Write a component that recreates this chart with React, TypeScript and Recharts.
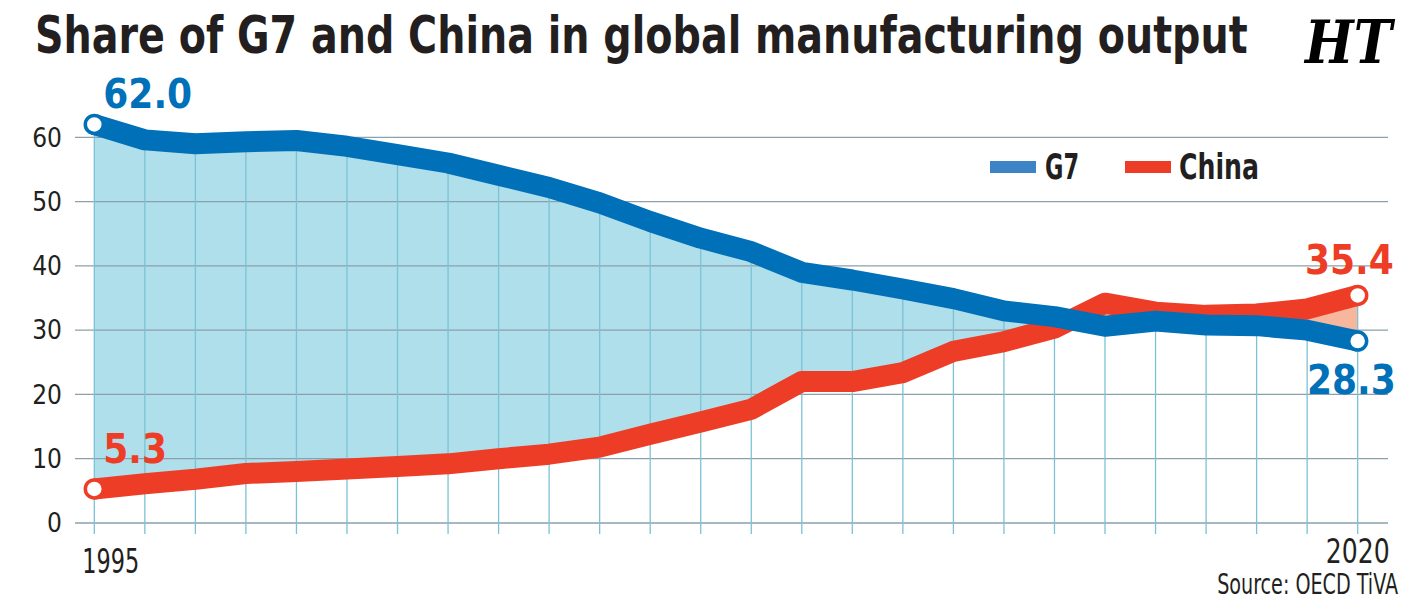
import React, { useLayoutEffect, useRef, useState } from "react";
import {
  ComposedChart,
  Line,
  Area,
  XAxis,
  YAxis,
  ReferenceLine,
} from "recharts";

const years = [
  1995, 1996, 1997, 1998, 1999, 2000, 2001, 2002, 2003, 2004, 2005, 2006, 2007,
  2008, 2009, 2010, 2011, 2012, 2013, 2014, 2015, 2016, 2017, 2018, 2019, 2020,
];
const g7Share = [
  62.0, 59.6, 59.0, 59.3, 59.5, 58.6, 57.3, 56.0, 54.1, 52.2, 49.8, 46.9, 44.3,
  42.2, 39.0, 37.8, 36.4, 34.9, 33.0, 32.1, 30.6, 31.4, 30.8, 30.7, 30.0, 28.3,
];
const chinaShare = [
  5.3, 6.1, 6.8, 7.7, 8.0, 8.4, 8.8, 9.2, 10.0, 10.7, 11.8, 13.8, 15.7, 17.7,
  22.0, 22.0, 23.4, 26.7, 28.2, 30.3, 34.2, 32.8, 32.3, 32.5, 33.3, 35.4,
];
const yTicks = [0, 10, 20, 30, 40, 50, 60];
const labeledYears = [1995, 2020];

const G7_BLUE = "#0070b9";
const CHINA_RED = "#ee3d26";
const INK = "#231f20";
const FONT = "'Liberation Sans Narrow', 'DejaVu Sans Condensed', sans-serif";

const chartData = years.map((year, i) => ({
  year,
  g7: g7Share[i],
  china: chinaShare[i],
  range: [Math.min(g7Share[i], chinaShare[i]), Math.max(g7Share[i], chinaShare[i])],
}));

// where China overtakes the G7, as a fraction of the x range (for the fill gradient)
function crossFraction(): number {
  for (let i = 1; i < years.length; i++) {
    const d0 = g7Share[i - 1] - chinaShare[i - 1];
    const d1 = g7Share[i] - chinaShare[i];
    if (d0 > 0 && d1 <= 0) {
      const t = d0 / (d0 - d1);
      const yr = years[i - 1] + t * (years[i] - years[i - 1]);
      return (yr - years[0]) / (years[years.length - 1] - years[0]);
    }
  }
  return 1;
}
const crossAt = crossFraction();
const last = years.length - 1;

// svg text squeezed horizontally to a given width (the original uses a condensed face)
function FitText(props: any) {
  const { x, y, width, anchor = "start", children, ...rest } = props;
  const ref = useRef<SVGTextElement>(null);
  const [sx, setSx] = useState(1);
  useLayoutEffect(() => {
    if (ref.current) {
      const w = ref.current.getComputedTextLength();
      if (w > 0) setSx(width / w);
    }
  }, [width, children]);
  return (
    <text
      ref={ref}
      x={0}
      y={0}
      textAnchor={anchor}
      transform={`translate(${x},${y}) scale(${sx},1)`}
      {...rest}
    >
      {children}
    </text>
  );
}

function endDot(color: string) {
  return (props: any) => {
    const { cx, cy, index } = props;
    if (index !== 0 && index !== last) return <g key={`d-${index}`} />;
    return (
      <circle
        key={`d-${index}`}
        cx={cx}
        cy={cy}
        r={9}
        fill="#fff"
        stroke={color}
        strokeWidth={3.5}
      />
    );
  };
}

// end-point value labels; offsets differ for each end
function endLabel(color: string, first: [number, number], end: [number, number]) {
  return (props: any) => {
    const { x, y, index, value } = props;
    if (index !== 0 && index !== last) return null;
    const isFirst = index === 0;
    return (
      <text
        key={`l-${index}`}
        x={x + (isFirst ? first[0] : end[0])}
        y={y + (isFirst ? first[1] : end[1])}
        textAnchor={isFirst ? "start" : "end"}
        fill={color}
        fontFamily={FONT}
        fontWeight={700}
        fontSize={40}
      >
        {Number(value).toFixed(1)}
      </text>
    );
  };
}

function YearTick(props: any) {
  const { x, y, payload } = props;
  if (!labeledYears.includes(payload.value)) return <g />;
  const isFirst = payload.value === years[0];
  return (
    <FitText
      x={isFirst ? x - 12 : x + 32}
      y={isFirst ? y + 37 : y + 27}
      width={isFirst ? 57 : 64}
      anchor={isFirst ? "start" : "end"}
      fill={INK}
      fontFamily={FONT}
      fontSize={33}
    >
      {payload.value}
    </FitText>
  );
}

export default function App() {
  return (
    <div
      style={{
        position: "absolute",
        left: 0,
        top: 0,
        width: 1423,
        height: 609,
        background: "#fff",
        overflow: "hidden",
      }}
    >
      <div style={{ position: "absolute", left: 0, top: 0 }}>
        <ComposedChart
          width={1423}
          height={609}
          data={chartData}
          margin={{ top: 73, right: 35, left: 0, bottom: 46 }}
        >
          <defs>
            <linearGradient id="gapFill" x1="0" y1="0" x2="1" y2="0">
              <stop offset={0} stopColor="#aedfea" />
              <stop offset={crossAt} stopColor="#aedfea" />
              <stop offset={crossAt} stopColor="#f6b79c" />
              <stop offset={1} stopColor="#f6b79c" />
            </linearGradient>
          </defs>
          <XAxis
            dataKey="year"
            type="number"
            domain={[1994.618, 2020.6]}
            ticks={years}
            interval={0}
            height={40}
            axisLine={false}
            tickLine={{ stroke: "#7cc2d6", strokeWidth: 1.3 }}
            tickSize={11}
            tick={<YearTick />}
          />
          <YAxis
            type="number"
            domain={[0, 70]}
            ticks={yTicks}
            width={75}
            axisLine={false}
            tickLine={false}
            tickSize={0}
            tickMargin={13}
            tick={{ fontFamily: FONT, fontSize: 26, fill: INK }}
          />
          <Area
            dataKey="range"
            type="linear"
            stroke="none"
            fill="url(#gapFill)"
            fillOpacity={1}
            isAnimationActive={false}
          />
          {yTicks.map((t) => (
            <ReferenceLine key={`h-${t}`} y={t} stroke="#8aa0ad" strokeWidth={1.3} />
          ))}
          {chartData.map((d) => (
            <ReferenceLine
              key={d.year}
              segment={[
                { x: d.year, y: 0 },
                { x: d.year, y: d.range[1] },
              ]}
              stroke="#7cc2d6"
              strokeWidth={1.3}
            />
          ))}
          <Line
            dataKey="china"
            type="linear"
            stroke={CHINA_RED}
            strokeWidth={21}
            strokeLinejoin="round"
            dot={endDot(CHINA_RED)}
            activeDot={false}
            label={endLabel(CHINA_RED, [9, -26], [36, -21])}
            isAnimationActive={false}
          />
          <Line
            dataKey="g7"
            type="linear"
            stroke={G7_BLUE}
            strokeWidth={21}
            strokeLinejoin="round"
            dot={endDot(G7_BLUE)}
            activeDot={false}
            label={endLabel(G7_BLUE, [9, -16], [38, 53])}
            isAnimationActive={false}
          />
        </ComposedChart>
      </div>
      <svg
        width={1423}
        height={609}
        style={{ position: "absolute", left: 0, top: 0, pointerEvents: "none" }}
      >
        <FitText
          x={35}
          y={53}
          width={1213}
          fontFamily={FONT}
          fontWeight={700}
          fontSize={52}
          fill={INK}
        >
          Share of G7 and China in global manufacturing output
        </FitText>
        <FitText
          x={1305}
          y={63}
          width={87}
          fontFamily="'DejaVu Serif', serif"
          fontWeight={700}
          fontStyle="italic"
          fontSize={60}
          fill="#000"
        >
          HT
        </FitText>
        {/* legend */}
        <rect x={990} y={161} width={46} height={12} fill="#3d84c6" />
        <FitText x={1045} y={179} width={34} fontFamily={FONT} fontWeight={700} fontSize={35} fill={INK}>
          G7
        </FitText>
        <rect x={1125} y={161} width={46} height={12} fill={CHINA_RED} />
        <FitText x={1179} y={179} width={80} fontFamily={FONT} fontWeight={700} fontSize={35} fill={INK}>
          China
        </FitText>
        <FitText
          x={1398}
          y={594}
          width={181}
          anchor="end"
          fontFamily={FONT}
          fontSize={28}
          fill={INK}
        >
          Source: OECD TiVA
        </FitText>
      </svg>
    </div>
  );
}
